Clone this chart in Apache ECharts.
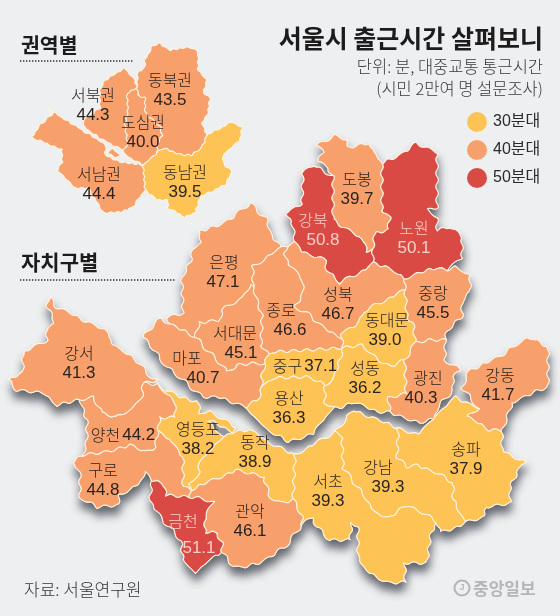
<!DOCTYPE html>
<html><head><meta charset="utf-8">
<style>html,body{margin:0;padding:0;background:#eeeff1}#c{width:560px;height:616px}</style>
<script src="https://cdn.jsdelivr.net/npm/echarts@6/dist/echarts.min.js"></script>
</head><body><div id="c"></div>
<script>
// ---- data ----
const districtNames = ['도봉','강북','노원','은평','종로','성북','중랑','동대문','서대문','마포','중구','용산','성동','광진','강동','송파','강남','서초','동작','영등포','관악','금천','구로','양천','강서'];
const districtValues = [39.7,50.8,50.1,47.1,46.6,46.7,45.5,39.0,45.1,40.7,37.1,36.3,36.2,40.3,41.7,37.9,39.3,39.3,38.9,38.2,46.1,51.1,44.8,44.2,41.3];
const zoneNames = ['서북권','동북권','도심권','서남권','동남권'];
const zoneValues = [44.3,43.5,40.0,44.4,39.5];
const legendLabels = ['30분대','40분대','50분대'];
const legendColors = ['#fdc455','#f7a06c','#d94a44'];

// ---- map outlines (this chart's own schematic base map, in picture coordinates) ----
const districtShapes = {
'도봉':[[318,145],[335,135],[348,142],[348,148],[370,143],[373,153],[382,160],[382,210],[390,218],[388,230],[375,233],[373,250],[367,251],[363,240],[348,230],[333,220],[333,177],[327,167],[318,162],[323,153]],
'강북':[[303,173],[313,165],[323,170],[333,177],[333,220],[348,230],[363,240],[367,251],[373,250],[373,263],[365,270],[350,277],[340,283],[327,270],[325,260],[303,252],[295,243],[293,227],[287,213],[302,203]],
'노원':[[382,163],[397,157],[417,143],[437,153],[437,207],[428,210],[437,217],[437,230],[450,227],[462,237],[462,257],[447,270],[437,268],[420,272],[405,279],[387,267],[373,263],[373,250],[375,233],[388,230],[390,218],[382,210]],
'은평':[[250,203],[267,220],[270,233],[278,243],[280,248],[270,255],[253,267],[253,288],[250,285],[243,297],[222,310],[220,320],[200,323],[195,337],[187,332],[170,325],[167,317],[183,313],[182,280],[192,257],[192,248],[202,243],[198,232],[220,225],[233,217]],
'종로':[[253,267],[270,255],[280,248],[287,245],[285,253],[288,263],[303,280],[303,293],[295,307],[310,315],[322,327],[342,338],[343,348],[310,350],[272,352],[268,355],[261,345],[262,315],[253,288]],
'성북':[[287,245],[295,243],[303,252],[325,260],[327,270],[340,283],[350,277],[365,270],[373,263],[387,267],[405,279],[405,290],[390,298],[375,305],[363,313],[360,322],[342,333],[342,338],[322,327],[310,315],[295,307],[303,293],[303,280],[288,263],[285,253]],
'중랑':[[405,279],[420,272],[437,268],[447,270],[457,267],[470,277],[470,293],[462,300],[462,317],[447,330],[445,340],[427,340],[415,343],[413,323],[407,317],[405,290]],
'동대문':[[405,290],[407,317],[413,323],[415,343],[405,360],[390,367],[372,355],[363,345],[343,348],[342,338],[342,333],[360,322],[363,313],[375,305],[390,298]],
'서대문':[[250,285],[253,288],[262,315],[261,345],[268,355],[265,365],[258,363],[237,365],[227,372],[220,363],[210,353],[195,337],[200,323],[220,320],[222,310],[243,297]],
'마포':[[162,318],[170,325],[187,332],[195,337],[210,353],[220,363],[227,372],[237,365],[258,363],[265,365],[262,375],[262,387],[258,400],[245,407],[220,397],[202,397],[183,380],[163,363],[153,348],[143,338],[153,325]],
'중구':[[268,355],[272,352],[310,350],[343,348],[338,365],[335,377],[325,385],[308,377],[273,378],[262,387],[262,375],[265,365]],
'용산':[[262,387],[273,378],[308,377],[325,385],[325,402],[333,408],[313,433],[290,442],[270,432],[255,418],[245,407],[258,400]],
'성동':[[343,348],[363,345],[372,355],[390,367],[405,360],[406,393],[388,398],[390,412],[377,412],[355,402],[338,408],[333,408],[325,402],[325,385],[335,377],[338,365]],
'광진':[[415,343],[427,340],[445,340],[445,360],[460,370],[453,378],[453,390],[437,408],[435,418],[418,423],[390,412],[388,398],[406,393],[405,360]],
'강동':[[528,337],[548,347],[548,388],[533,392],[513,403],[502,430],[490,430],[468,417],[478,408],[462,387],[470,370],[497,358]],
'송파':[[398,428],[417,435],[455,397],[478,408],[468,417],[490,430],[502,430],[502,450],[520,460],[525,463],[518,470],[510,487],[510,503],[487,507],[483,517],[467,522],[462,517],[453,500],[453,483],[437,473],[417,465],[407,467],[397,458]],
'강남':[[353,410],[398,428],[397,458],[407,467],[417,465],[437,473],[453,483],[453,500],[462,517],[467,522],[458,527],[440,532],[437,522],[423,513],[408,505],[388,518],[375,513],[365,497],[343,468],[342,437],[335,432],[343,423]],
'서초':[[335,432],[342,437],[343,468],[365,497],[375,513],[388,518],[408,505],[423,513],[437,522],[431,533],[427,563],[405,563],[405,582],[388,583],[365,570],[358,557],[358,527],[352,522],[350,540],[330,540],[317,527],[312,517],[302,525],[302,515],[293,500],[295,455]],
'동작':[[223,437],[233,432],[250,430],[270,443],[290,453],[295,455],[293,500],[280,503],[270,497],[263,477],[237,470],[213,480],[190,490],[190,483],[200,473],[198,463],[217,443]],
'영등포':[[158,385],[177,396],[198,402],[200,415],[208,410],[237,428],[233,432],[217,424],[207,420],[223,437],[217,443],[198,463],[200,473],[190,483],[190,490],[183,487],[183,457],[170,440],[158,432],[160,418],[175,417],[175,402]],
'관악':[[190,490],[213,480],[237,470],[263,477],[270,497],[280,503],[293,500],[302,515],[302,525],[285,547],[260,563],[240,568],[230,563],[222,552],[222,542],[217,533],[205,532],[205,515],[213,503],[200,498],[190,497]],
'금천':[[152,480],[163,483],[167,495],[190,497],[200,498],[213,503],[205,515],[205,532],[217,533],[222,542],[222,552],[213,557],[195,573],[183,560],[181,540],[160,517],[150,500]],
'구로':[[72,462],[83,455],[105,452],[130,445],[145,452],[155,447],[158,432],[170,440],[183,457],[183,487],[190,490],[190,497],[167,495],[163,483],[152,480],[145,473],[140,483],[120,495],[118,505],[97,507],[80,498],[80,473]],
'양천':[[80,400],[93,397],[103,413],[117,417],[130,410],[142,397],[143,383],[158,385],[175,402],[175,417],[160,418],[158,432],[155,447],[145,452],[130,445],[105,452],[83,455],[87,440],[87,420]],
'강서':[[50,298],[55,306],[110,333],[110,342],[140,363],[148,375],[157,380],[143,383],[142,397],[130,410],[117,417],[103,413],[93,397],[80,400],[57,405],[43,393],[17,390],[8,380],[23,373],[23,353],[47,340],[47,328],[55,323],[46,304]]
};
const zoneShapes = {
'동북권':[[[158,43],[170,50],[190,47],[198,52],[198,70],[207,80],[203,93],[210,97],[208,113],[202,123],[207,135],[202,147],[192,155],[182,155],[163,148],[157,153],[157,145],[162,135],[160,127],[145,113],[145,98],[138,95],[137,88],[138,72],[145,68],[145,60],[152,47]]],
'동남권':[[[163,148],[182,155],[192,155],[202,147],[207,135],[232,122],[242,127],[240,140],[223,155],[223,163],[232,172],[225,185],[200,197],[195,213],[185,217],[168,208],[168,200],[157,200],[145,190],[143,165],[157,153]]],
'서북권':[[[125,68],[130,75],[135,80],[137,88],[127,93],[128,110],[125,125],[128,145],[123,150],[103,140],[85,128],[83,120],[100,108],[100,90],[105,80]]],
'도심권':[[[127,93],[137,88],[138,95],[145,98],[145,113],[160,127],[162,135],[157,145],[157,153],[143,165],[125,155],[123,150],[128,145],[125,125],[128,110]]],
'서남권':[[[47,107],[50,110],[106,145],[105,155],[120,162],[143,165],[145,190],[132,208],[120,212],[103,213],[100,207],[88,188],[75,188],[57,170],[62,163],[62,150],[43,142],[32,138],[38,127],[53,113]],[[112,148],[120,155],[117,158],[108,154]]]
};
// label anchor [x, y] and how far the name sits from the value line
const districtLabelAt = {'도봉':[357,189],'강북':[323,230],'노원':[414,238],'은평':[223,272],'종로':[290,320],'성북':[338,304],'중랑':[433,303],'동대문':[385,330],'서대문':[241,343],'마포':[203,368],'중구':[305,366],'용산':[289,408],'성동':[365,378],'광진':[421,388],'강동':[498,385],'송파':[466,459],'강남':[388,477],'서초':[328,491],'동작':[255,452],'영등포':[198,439],'관악':[250,521],'금천':[199,538],'구로':[103,480],'양천':[123,435],'강서':[79,363]};
const districtNameDx = {'강북':-10,'종로':-9,'동대문':2,'서대문':-6,'마포':-16,'광진':7,'강동':2,'강남':-10,'금천':-16,'은평':1};
const inlineLabels = ['중구','양천'];
const tallLabels = ['금천'];
const zoneLabelAt = {'서북권':[93,105],'동북권':[170,90],'도심권':[143,132],'서남권':[99,184],'동남권':[185,182]};

// ---- turn outlines into GeoJSON with the scalloped edge ----
function scallop(ring, period, amp){
  const out=[]; const TAU=Math.PI*2;
  for(let i=0;i<ring.length;i++){
    const a=ring[i], b=ring[(i+1)%ring.length];
    const n=Math.max(1,Math.ceil(Math.hypot(b[0]-a[0],b[1]-a[1])/1.5));
    for(let k=0;k<n;k++){
      const x=a[0]+(b[0]-a[0])*k/n, y=a[1]+(b[1]-a[1])*k/n;
      out.push([x+amp*Math.sin(TAU*y/period), 616-(y+amp*Math.sin(TAU*x/period))]);
    }
  }
  out.push(out[0]);
  return out;
}
function toGeo(shapes, at, period, amp){
  return {type:'FeatureCollection',features:Object.keys(shapes).map(name=>{
    const rings=Array.isArray(shapes[name][0][0])?shapes[name]:[shapes[name]];
    return {type:'Feature',properties:{name,cp:[at[name][0],616-at[name][1]]},
      geometry:{type:'MultiPolygon',coordinates:rings.map(r=>[scallop(r,period,amp)])}};
  })};
}
echarts.registerMap('seoulGu', toGeo(districtShapes,districtLabelAt,13.5,1.3));
echarts.registerMap('seoulGuShade', toGeo(districtShapes,districtLabelAt,13.5,1.3));
echarts.registerMap('seoulZone', toGeo(zoneShapes,zoneLabelAt,7,0.7));

const KR='"Noto Sans CJK KR"';
const NUM='"Liberation Sans"';
const EDGE='#fff3e2';
function labelSet(names,values,dxMap){
  const rich={};
  const fmt={};
  names.forEach((nm,i)=>{
    const dx=(dxMap&&dxMap[nm])||0;
    const light=values[i]>=50;
    const col=light?'#fbd0c8':'#2b2320';
    rich['n'+i]={fontFamily:KR,fontSize:16,fontWeight:300,color:col,lineHeight:20,
      padding:[0,dx<0?-2*dx:0,0,dx>0?2*dx:0]};
    rich['v'+i]={fontFamily:NUM,fontSize:17,color:col,lineHeight:tallLabels.includes(nm)?34:20,
      padding:inlineLabels.includes(nm)?[0,0,0,2]:0};
    const sep=inlineLabels.includes(nm)?'':'\n';
    fmt[nm]='{n'+i+'|'+nm+'}'+sep+'{v'+i+'|'+values[i].toFixed(1)+'}';
  });
  return {rich,fmt};
}
function mapSeries(map,names,values,dxMap){
  const l=labelSet(names,values,dxMap);
  return {type:'map',map,silent:true,roam:false,aspectScale:1,selectedMode:false,showLegendSymbol:false,
    left:0,top:0,width:560,height:616,boundingCoords:[[0,616],[560,0]],
    itemStyle:{borderColor:EDGE,borderWidth:1.1},
    label:{show:true,formatter:p=>l.fmt[p.name],rich:l.rich},
    emphasis:{disabled:true},
    data:names.map((n,i)=>({name:n,value:values[i]}))};
}
const chart=echarts.init(document.getElementById('c'),null,{renderer:'canvas'});
chart.setOption({
  animation:false,
  backgroundColor:'#eeeff1',
  title:[
    {text:'서울시 출근시간 살펴보니',right:12,top:21,textStyle:{fontFamily:KR,fontSize:25,fontWeight:'bold',color:'#1c1c1c'}},
    {text:'단위: 분, 대중교통 통근시간',right:12,top:53,textStyle:{fontFamily:KR,fontSize:16.5,fontWeight:300,color:'#3a3a3a'}},
    {text:'(시민 2만여 명 설문조사)',right:12,top:75,textStyle:{fontFamily:KR,fontSize:16.5,fontWeight:300,color:'#3a3a3a'}},
    {text:'권역별',left:16,top:30,textStyle:{fontFamily:KR,fontSize:20.5,fontWeight:'bold',color:'#1c1c1c'}},
    {text:'자치구별',left:16,top:247,textStyle:{fontFamily:KR,fontSize:21,fontWeight:'bold',color:'#1c1c1c'}},
    {text:'자료: 서울연구원',left:19,top:576,textStyle:{fontFamily:KR,fontSize:17,fontWeight:300,color:'#333'}},
    {text:'중앙일보',left:468,top:575,textStyle:{fontFamily:KR,fontSize:17,fontWeight:'bold',color:'#b4b6b8'}}
  ],
  visualMap:{type:'piecewise',seriesIndex:[1,2],left:452,top:97,orient:'vertical',align:'left',inverse:true,itemSymbol:'circle',
    itemWidth:20,itemHeight:20,itemGap:8,textGap:6,selectedMode:false,hoverLink:false,
    textStyle:{fontFamily:NUM+','+KR,fontSize:16,color:'#2b2b2b'},
    pieces:[
      {min:30,max:39.6,label:legendLabels[0],color:legendColors[0]},
      {min:39.6,max:50,label:legendLabels[1],color:legendColors[1]},
      {min:50,max:60,label:legendLabels[2],color:legendColors[2]}
    ]},
  series:[
    {type:'map',map:'seoulGuShade',silent:true,roam:false,aspectScale:1,selectedMode:false,showLegendSymbol:false,
      left:0,top:0,width:560,height:616,boundingCoords:[[0,616],[560,0]],label:{show:false},emphasis:{disabled:true},
      itemStyle:{areaColor:EDGE,borderColor:EDGE,borderWidth:1,shadowColor:'rgba(62,66,76,0.78)',shadowBlur:9,shadowOffsetX:1,shadowOffsetY:8},
      data:[]},
    mapSeries('seoulGu',districtNames,districtValues,districtNameDx),
    mapSeries('seoulZone',zoneNames,zoneValues,null)
  ],
  graphic:[
    {type:'line',shape:{x1:20,y1:61,x2:134,y2:61},style:{stroke:'#333',lineWidth:1.4,lineDash:[1.4,1.6]},silent:true},
    {type:'line',shape:{x1:20,y1:280,x2:175,y2:280},style:{stroke:'#333',lineWidth:1.4,lineDash:[1.4,1.6]},silent:true},
    {type:'circle',shape:{cx:462,cy:588,r:7.5},style:{fill:'none',stroke:'#b4b6b8',lineWidth:2},silent:true},
    {type:'text',x:462,y:588,style:{text:'J',align:'center',verticalAlign:'middle',font:'bold 9px "Liberation Sans"',fill:'#b4b6b8'},silent:true}
  ]
});
</script></body></html>
